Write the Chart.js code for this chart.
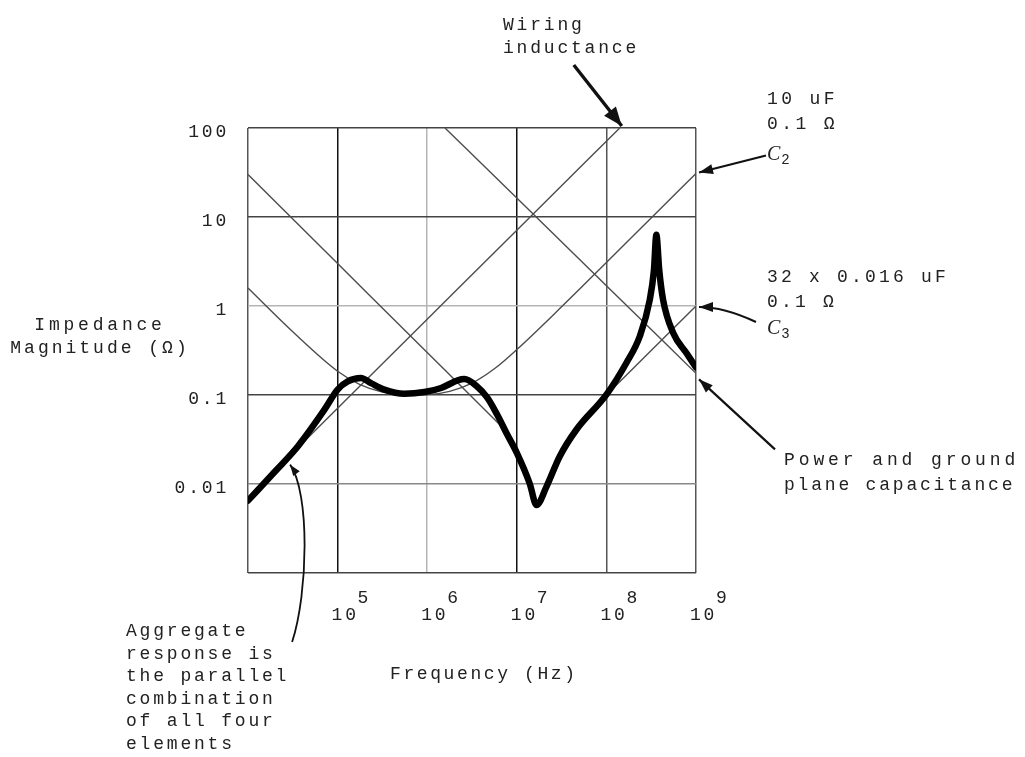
<!DOCTYPE html>
<html>
<head>
<meta charset="utf-8">
<script src="https://cdn.jsdelivr.net/npm/chart.js@4.4.1/dist/chart.umd.min.js"></script>
<style>
  html, body { margin: 0; padding: 0; background: #fff; }
  #wrap { width: 1025px; height: 757px; }
</style>
</head>
<body>
<div id="wrap"><canvas id="chart" width="1025" height="757"></canvas></div>
<script>
// ------------------------------------------------------------
// Impedance of a power distribution network vs frequency (log-log)
// ------------------------------------------------------------

// axes: decades only
const xTickValues = [1e4, 1e5, 1e6, 1e7, 1e8, 1e9];
const xTickExponents = ["", "5", "6", "7", "8", "9"];
const yTickValues = [0.001, 0.01, 0.1, 1, 10, 100];
const yTickLabels = ["", "0.01", "0.1", "1", "10", "100"];

// aggregate response (thick curve), Hz / ohms
const aggFreq = [1.0e4, 2.0e4, 3.59e4, 7.13e4, 1.0e5, 1.30e5, 1.82e5, 2.36e5, 3.33e5, 5.56e5,
                 9.31e5, 1.43e6, 2.19e6, 2.60e6, 3.55e6, 4.68e6, 6.03e6, 7.66e6, 1.0e7, 1.39e7,
                 1.66e7, 2.14e7, 3.01e7, 4.62e7, 1.0e8, 1.67e8, 2.36e8, 3.05e8, 3.39e8, 3.61e8,
                 3.89e8, 4.29e8, 5.55e8, 7.82e8, 1.0e9];
const aggZ = [0.0065, 0.0138, 0.0264, 0.0684, 0.115, 0.142, 0.155, 0.136, 0.115, 0.1035,
              0.108, 0.120, 0.146, 0.151, 0.126, 0.0933, 0.0603, 0.0374, 0.0224, 0.0102,
              0.0058, 0.0093, 0.0204, 0.0407, 0.101, 0.229, 0.457, 1.175, 2.51, 6.3,
              2.51, 1.175, 0.501, 0.296, 0.204];

// C2: 10 uF, 0.1 ohm
const c2Freq = [1e4, 3.16e4, 1e5, 1.78e5, 3.16e5, 5.62e5, 1e6, 1.78e6, 3.16e6, 5.62e6, 1e7, 3.16e7, 1e8, 3.16e8, 1e9];
const c2Z = [1.59, 0.513, 0.185, 0.131, 0.108, 0.1006, 0.101, 0.110, 0.136, 0.197, 0.324, 0.979, 3.08, 9.74, 30.8];

// C3: 32 x 0.016 uF, 0.1 ohm (middle part hidden under the aggregate curve)
const c3Freq = [1e4, 1e5, 1e6, 3.16e6, 7.4e6, 3e7, 7.0e7, 1e8, 3.16e8, 1e9];
const c3Z = [30, 3.0, 0.30, 0.095, 0.0405, null, 0.070, 0.100, 0.316, 1.0];

// power and ground plane capacitance
const planeFreq = [1.58e6, 1e7, 1e8, 1e9];
const planeZ = [100, 16.3, 1.69, 0.175];

// wiring inductance
const wiringFreq = [1e4, 1e5, 1e6, 1e7, 1.41e8];
const wiringZ = [0.0071, 0.071, 0.71, 7.1, 100];

const FONT = '18px "Liberation Mono", "DejaVu Sans Mono", monospace';
const INK = "#222";

function points(fs, zs) {
    return fs.map((f, i) => ({ x: f, y: zs[i] }));
}

function thin(data) {
    return {
        data: data,
        borderColor: "#4d4d4d",
        borderWidth: 1.4,
        cubicInterpolationMode: "monotone",
        pointRadius: 0
    };
}

// darker / lighter grid lines, as on the scanned original
function xGridColor(v) {
    if (v === 1e6) return "#b5b5b5";
    if (v === 1e5 || v === 1e7) return "#111";
    return "#555";
}
function yGridColor(v) {
    if (v === 1) return "#b5b5b5";
    if (v === 0.01) return "#888";
    return "#444";
}

// arrow with filled head; pts = list of [x, y], last one is the tip
function arrow(ctx, pts, width, headLen, headW) {
    ctx.lineWidth = width;
    ctx.beginPath();
    ctx.moveTo(pts[0][0], pts[0][1]);
    if (pts.length === 4) {
        ctx.bezierCurveTo(pts[1][0], pts[1][1], pts[2][0], pts[2][1], pts[3][0], pts[3][1]);
    } else if (pts.length === 3) {
        ctx.quadraticCurveTo(pts[1][0], pts[1][1], pts[2][0], pts[2][1]);
    } else {
        ctx.lineTo(pts[1][0], pts[1][1]);
    }
    ctx.stroke();
    const tip = pts[pts.length - 1], prev = pts[pts.length - 2];
    const a = Math.atan2(tip[1] - prev[1], tip[0] - prev[0]);
    ctx.beginPath();
    ctx.moveTo(tip[0], tip[1]);
    ctx.lineTo(tip[0] - headLen * Math.cos(a) + headW / 2 * Math.sin(a),
               tip[1] - headLen * Math.sin(a) - headW / 2 * Math.cos(a));
    ctx.lineTo(tip[0] - headLen * Math.cos(a) - headW / 2 * Math.sin(a),
               tip[1] - headLen * Math.sin(a) + headW / 2 * Math.cos(a));
    ctx.closePath();
    ctx.fill();
}

function lines(ctx, list, x, y0, step, spacing) {
    ctx.save();
    ctx.letterSpacing = (spacing || 2.8) + "px";
    list.forEach((t, i) => ctx.fillText(t, x, y0 + i * step));
    ctx.restore();
}

// C with a subscript digit
function cLabel(ctx, digit, x, y) {
    ctx.save();
    ctx.letterSpacing = "0px";
    ctx.font = 'italic 20px "Liberation Serif", "DejaVu Serif", serif';
    ctx.fillText("C", x, y);
    const w = ctx.measureText("C").width;
    ctx.font = '14px "Liberation Mono", monospace';
    ctx.fillText(digit, x + w + 1, y + 4);
    ctx.restore();
}

const annotations = {
    id: "annotations",
    afterDraw(chart) {
        const ctx = chart.ctx;
        const x = chart.scales.x, y = chart.scales.y, a = chart.chartArea;
        ctx.save();
        ctx.font = FONT;
        ctx.fillStyle = INK;
        ctx.strokeStyle = "#111";
        ctx.letterSpacing = "2.8px";
        ctx.textBaseline = "alphabetic";

        // y tick labels
        ctx.textAlign = "right";
        yTickValues.forEach((v, i) => {
            if (yTickLabels[i]) ctx.fillText(yTickLabels[i], a.left - 19, y.getPixelForValue(v) + 9);
        });

        // x tick labels: 10 with raised exponent
        ctx.textAlign = "left";
        xTickValues.forEach((v, i) => {
            if (!xTickExponents[i]) return;
            const px = x.getPixelForValue(v);
            ctx.fillText("10", px - 6, a.bottom + 47);
            ctx.fillText(xTickExponents[i], px + 20, a.bottom + 30);
        });

        // axis titles
        ctx.textAlign = "center";
        lines(ctx, ["Impedance"], 100, y.getPixelForValue(1) + 24, 0, 3.8);
        lines(ctx, ["Magnitude (\u03A9)"], 100, y.getPixelForValue(1) + 47, 0, 3);
        ctx.textAlign = "left";
        lines(ctx, ["Frequency (Hz)"], 390, a.bottom + 106, 0, 2.6);

        // right-hand labels
        lines(ctx, ["Wiring", "inductance"], 503, 30, 23);
        lines(ctx, ["10 uF", "0.1 \u03A9"], a.right + 71, 104, 25, 3.4);
        cLabel(ctx, "2", a.right + 71, 160);
        lines(ctx, ["32 x 0.016 uF", "0.1 \u03A9"], a.right + 71, 282, 25, 3.2);
        cLabel(ctx, "3", a.right + 71, 334);
        lines(ctx, ["Power and ground"], a.right + 88, 465, 0, 3.9);
        lines(ctx, ["plane capacitance"], a.right + 88, 490, 0, 2.8);
        lines(ctx, ["Aggregate", "response is", "the parallel", "combination", "of all four", "elements"],
              126, 636, 22.5);

        // arrows
        ctx.fillStyle = "#111";
        const wTip = [x.getPixelForValue(wiringFreq[wiringFreq.length - 1]) + 2, y.getPixelForValue(100) - 2];
        arrow(ctx, [[wTip[0] - 48, wTip[1] - 61], wTip], 3.4, 19, 15);

        const c2Tip = [a.right + 3, y.getPixelForValue(c2Z[c2Z.length - 1]) - 1];
        arrow(ctx, [[a.right + 70, c2Tip[1] - 17], c2Tip], 2.2, 14, 10);

        const c3Tip = [a.right + 3, y.getPixelForValue(c3Z[c3Z.length - 1]) + 1];
        arrow(ctx, [[a.right + 60, c3Tip[1] + 15], [a.right + 28, c3Tip[1]], c3Tip], 2.2, 14, 10);

        const pTip = [a.right + 3, y.getPixelForValue(planeZ[planeZ.length - 1]) + 6];
        arrow(ctx, [[a.right + 79, pTip[1] + 70], pTip], 2.2, 14, 10);

        // pointer from the caption up to the aggregate curve
        const gTip = [x.getPixelForValue(2.95e4), y.getPixelForValue(0.0165)];
        arrow(ctx, [[gTip[0] + 2, a.bottom + 69], [gTip[0] + 18, a.bottom + 20],
                    [gTip[0] + 20, gTip[1] + 28], gTip], 1.8, 11, 8);

        ctx.restore();
    }
};

new Chart(document.getElementById("chart"), {
    type: "line",
    data: {
        datasets: [
            {
                data: points(aggFreq, aggZ),
                borderColor: "#000",
                borderWidth: 6.5,
                borderCapStyle: "round",
                borderJoinStyle: "round",
                cubicInterpolationMode: "monotone",
                pointRadius: 0
            },
            thin(points(c2Freq, c2Z)),
            thin(points(c3Freq, c3Z)),
            thin(points(planeFreq, planeZ)),
            thin(points(wiringFreq, wiringZ))
        ]
    },
    options: {
        responsive: false,
        animation: false,
        events: [],
        layout: { padding: { left: 0, top: 128, right: 329, bottom: 0 } },
        plugins: { legend: { display: false }, tooltip: { enabled: false } },
        scales: {
            x: {
                type: "logarithmic",
                min: 1e4,
                max: 1e9,
                afterBuildTicks: (axis) => { axis.ticks = xTickValues.map(v => ({ value: v })); },
                afterFit: (axis) => { axis.height = 184; },
                ticks: { display: false },
                border: { display: false },
                grid: {
                    drawTicks: false,
                    lineWidth: 1.5,
                    color: (c) => xGridColor(c.tick ? c.tick.value : 0)
                }
            },
            y: {
                type: "logarithmic",
                min: 0.001,
                max: 100,
                afterBuildTicks: (axis) => { axis.ticks = yTickValues.map(v => ({ value: v })); },
                afterFit: (axis) => { axis.width = 248; },
                ticks: { display: false },
                border: { display: false },
                grid: {
                    drawTicks: false,
                    lineWidth: 1.5,
                    color: (c) => yGridColor(c.tick ? c.tick.value : 0)
                }
            }
        }
    },
    plugins: [annotations]
});
</script>
</body>
</html>
